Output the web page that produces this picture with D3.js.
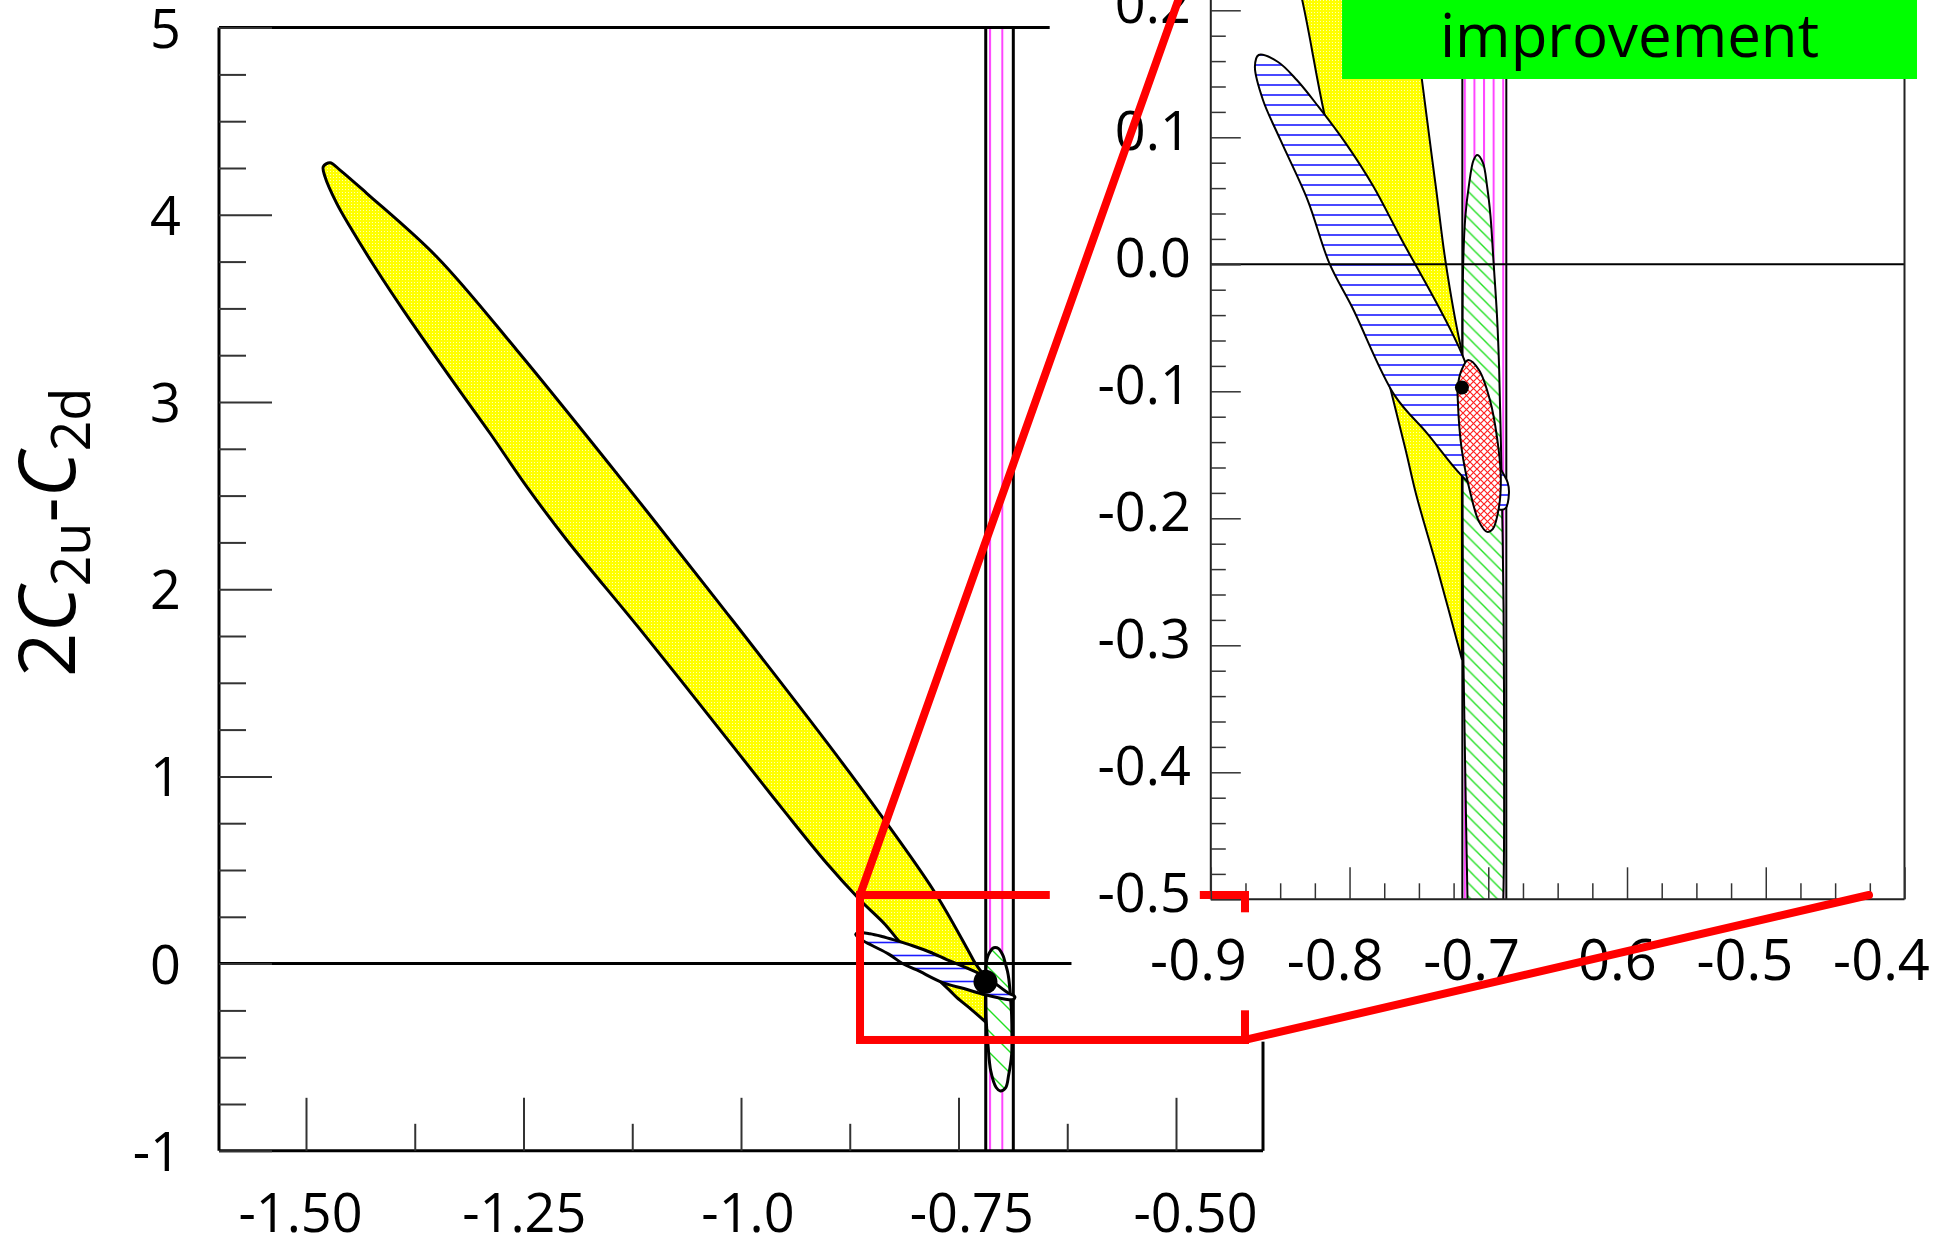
<!DOCTYPE html>
<html>
<head>
<meta charset="utf-8">
<script src="https://cdn.jsdelivr.net/npm/d3@7/dist/d3.min.js"></script>
<style>
  body { margin: 0; background: white; }
  svg text { font-family: "Open Sans", sans-serif; fill: black; }
</style>
</head>
<body>
<div id="chart"></div>
<script>
// ---- data ----
// axes
const mainXTicks = [-1.5, -1.25, -1.0, -0.75, -0.5];
const mainXLabels = ['-1.50', '-1.25', '-1.0', '-0.75', '-0.50'];
const mainXMinor = [-1.375, -1.125, -0.875, -0.625];
const mainYTicks = [-1, 0, 1, 2, 3, 4, 5];
const mainYLabels = ['-1', '0', '1', '2', '3', '4', '5'];
const insetXTicks = [-0.9, -0.8, -0.7, -0.6, -0.5, -0.4];
const insetXLabels = ['-0.9', '-0.8', '-0.7', '-0.6', '-0.5', '-0.4'];
const insetYTicks = [-0.5, -0.4, -0.3, -0.2, -0.1, 0.0, 0.1, 0.2];
const insetYLabels = ['-0.5', '-0.4', '-0.3', '-0.2', '-0.1', '0.0', '0.1', '0.2'];

// yellow band: from the lower clip corner, up the lower edge, round the tip,
// down the upper edge; the right side is cut by the vertical band
const yellowOutline = [
  [-0.7190, -0.311], [-0.7361, -0.242], [-0.7518, -0.182], [-0.7596, -0.146],
  [-0.7753, -0.077], [-0.8177, 0.116], [-0.8341, 0.208], [-0.8632, 0.340],
  [-0.9015, 0.536], [-0.9514, 0.821], [-1.0089, 1.159], [-1.1123, 1.764],
  [-1.2003, 2.263], [-1.2463, 2.548], [-1.2885, 2.833], [-1.3268, 3.082],
  [-1.3882, 3.491], [-1.4187, 3.705], [-1.4494, 3.936], [-1.4647, 4.061],
  [-1.4782, 4.204], [-1.4801, 4.257], [-1.4724, 4.278], [-1.4609, 4.239],
  [-1.4302, 4.115], [-1.3498, 3.776], [-1.2578, 3.278], [-1.1429, 2.619],
  [-1.0279, 1.942], [-0.8747, 1.017], [-0.7790, 0.393], [-0.7384, 0.066],
  [-0.7305, 0.000], [-0.7204, -0.062], [-0.7190, -0.068]
];

// blue horizontally hatched ellipse
const blueOutline = [
  [-0.8655, 0.1648], [-0.8518, 0.1595], [-0.8380, 0.1451], [-0.8224, 0.1241],
  [-0.8027, 0.0952], [-0.7832, 0.0620], [-0.7636, 0.0217], [-0.7192, -0.0701],
  [-0.6929, -0.1570], [-0.6860, -0.1720], [-0.6851, -0.1800], [-0.6875, -0.1920],
  [-0.6920, -0.1930], [-0.7192, -0.1664], [-0.7439, -0.1333], [-0.7675, -0.1032],
  [-0.7980, -0.0340], [-0.8145, 0.0007], [-0.8302, 0.0506], [-0.8498, 0.0979],
  [-0.8624, 0.1294], [-0.8682, 0.1556]
];

// green diagonally hatched ellipse
const greenOutline = [
  [-0.7079, 0.086], [-0.7039, 0.080], [-0.7008, 0.061], [-0.6984, 0.038],
  [-0.6961, 0.000], [-0.6937, -0.041], [-0.6922, -0.081], [-0.6902, -0.180],
  [-0.6890, -0.270], [-0.6886, -0.390], [-0.6890, -0.490], [-0.6924, -0.596],
  [-0.6957, -0.662], [-0.7020, -0.680], [-0.7067, -0.662], [-0.7129, -0.574],
  [-0.7160, -0.440], [-0.7181, -0.300], [-0.7185, -0.150], [-0.7181, 0.000],
  [-0.7165, 0.038], [-0.7141, 0.061], [-0.7106, 0.082]
];

// red cross-hatched ellipse (inset only)
const redOutline = [
  [-0.7145, -0.0754], [-0.7067, -0.0832], [-0.6988, -0.1069], [-0.6937, -0.1363],
  [-0.6910, -0.1664], [-0.6922, -0.1905], [-0.6968, -0.2086], [-0.7008, -0.2107],
  [-0.7067, -0.2026], [-0.7126, -0.1815], [-0.7192, -0.1453], [-0.7220, -0.1062],
  [-0.7220, -0.0964], [-0.7192, -0.0832]
];

const bestFit = [-0.719, -0.097];
const bandEdges = [-0.7187, -0.6870];

// zoom box on the main plot, and the green label box in the inset
const zoomBox = { x0: -0.8632, x1: -0.4207, y0: -0.408, y1: 0.3665 };
const improvementBox = { x0: -0.8054, x1: -0.391, y0: 0.1459 };

// ---- layout ----
const width = 1943, height = 1248;

const svg = d3.select('#chart')
  .append('svg')
  .attr('width', width)
  .attr('height', height)
  .style('background', 'white');

const xMain = d3.scaleLinear().domain([-1.6, -0.4]).range([219, 1263]);
const yMain = d3.scaleLinear().domain([-1, 5]).range([1150.8, 27.6]);
const xIn = d3.scaleLinear().domain([-0.9, -0.4]).range([1210.8, 1904.5]);
const yIn = d3.scaleLinear().domain([-0.5, 0.28]).range([899.3, -91.3]);

// tick labels are spaced a little differently from the ticks themselves
const xMainLabel = d3.scaleLinear().domain([-1.5, -0.5]).range([300, 1195]);
const xInLabel = d3.scaleLinear().domain([-0.9, -0.4]).range([1198, 1881]);

const defs = svg.append('defs');

// yellow dotted fill
const yp = defs.append('pattern').attr('id', 'yellowFill')
  .attr('patternUnits', 'userSpaceOnUse').attr('width', 3).attr('height', 3);
yp.append('rect').attr('width', 3).attr('height', 3).attr('fill', '#ffff00');
yp.append('rect').attr('width', 1).attr('height', 1).attr('fill', '#ffffb0');

// vertical magenta lines for the band
function magentaPattern(id, step, x0) {
  const p = defs.append('pattern').attr('id', id)
    .attr('patternUnits', 'userSpaceOnUse')
    .attr('x', x0 - 1).attr('width', step).attr('height', 10);
  p.append('line').attr('x1', 1).attr('x2', 1).attr('y1', 0).attr('y2', 10)
    .attr('stroke', '#ff44ff').attr('stroke-width', 2);
}
magentaPattern('magMain', 12.3, xMain(bandEdges[0]) + 4.3);
magentaPattern('magIn', 9.6, xIn(bandEdges[0]) + 2.5);

// horizontal blue lines
function bluePattern(id, step) {
  const p = defs.append('pattern').attr('id', id)
    .attr('patternUnits', 'userSpaceOnUse').attr('width', 10).attr('height', step);
  p.append('rect').attr('width', 10).attr('height', step).attr('fill', 'white');
  p.append('line').attr('x1', 0).attr('x2', 10).attr('y1', step / 2).attr('y2', step / 2)
    .attr('stroke', '#1a1aff').attr('stroke-width', 1.6);
}
bluePattern('blueMain', 13);
bluePattern('blueIn', 10);

// diagonal "\" green lines
function greenPattern(id, s) {
  const p = defs.append('pattern').attr('id', id)
    .attr('patternUnits', 'userSpaceOnUse').attr('width', s).attr('height', s);
  p.append('rect').attr('width', s).attr('height', s).attr('fill', 'white');
  p.append('path')
    .attr('d', `M0,0L${s},${s}M${s - 2},-2L${s + 2},2M-2,${s - 2}L2,${s + 2}`)
    .attr('stroke', '#22e022').attr('stroke-width', 1.4);
}
greenPattern('greenMain', 21);
greenPattern('greenIn', 13.3);

// red cross hatch
const s = 7;
const rp = defs.append('pattern').attr('id', 'redCross')
  .attr('patternUnits', 'userSpaceOnUse').attr('width', s).attr('height', s);
rp.append('rect').attr('width', s).attr('height', s).attr('fill', 'white');
rp.append('path').attr('d', `M0,0L${s},${s}M0,${s}L${s},0`)
  .attr('stroke', '#ff2020').attr('stroke-width', 1.2);

// clip paths
defs.append('clipPath').attr('id', 'clipMain').append('rect')
  .attr('x', xMain(-1.6)).attr('y', yMain(5))
  .attr('width', xMain(-0.4) - xMain(-1.6)).attr('height', yMain(-1) - yMain(5));
defs.append('clipPath').attr('id', 'clipIn').append('rect')
  .attr('x', xIn(-0.9)).attr('y', yIn(0.28))
  .attr('width', xIn(-0.4) - xIn(-0.9)).attr('height', yIn(-0.5) - yIn(0.28));

// draw the contours of one panel
function drawContours(g, xs, ys, o) {
  const closed = d3.line().x(d => xs(d[0])).y(d => ys(d[1]))
    .curve(d3.curveCatmullRomClosed.alpha(0.5));
  const open = d3.line().x(d => xs(d[0])).y(d => ys(d[1]))
    .curve(d3.curveCatmullRom.alpha(0.5));
  const [yb, yt] = ys.domain();

  // magenta band
  g.append('rect')
    .attr('x', xs(bandEdges[0])).attr('y', ys(yt))
    .attr('width', xs(bandEdges[1]) - xs(bandEdges[0]))
    .attr('height', ys(yb) - ys(yt))
    .attr('fill', `url(#${o.mag})`);
  bandEdges.forEach(b => {
    g.append('line')
      .attr('x1', xs(b)).attr('x2', xs(b))
      .attr('y1', ys(yb)).attr('y2', ys(yt))
      .attr('stroke', 'black').attr('stroke-width', o.lw);
  });

  // smooth outline, straight cut along the band edge
  g.append('path').attr('d', open(yellowOutline) + 'Z')
    .attr('fill', 'url(#yellowFill)').attr('stroke', 'black')
    .attr('stroke-width', o.lw).attr('stroke-linejoin', 'round');

  g.append('path').attr('d', closed(greenOutline))
    .attr('fill', `url(#${o.green})`).attr('stroke', 'black').attr('stroke-width', o.lw);

  g.append('path').attr('d', closed(blueOutline))
    .attr('fill', `url(#${o.blue})`).attr('stroke', 'black').attr('stroke-width', o.lw);

  if (o.red) {
    g.append('path').attr('d', closed(redOutline))
      .attr('fill', 'url(#redCross)').attr('stroke', 'black').attr('stroke-width', o.lw);
  }

  g.append('circle')
    .attr('cx', xs(bestFit[0])).attr('cy', ys(bestFit[1]))
    .attr('r', o.dot).attr('fill', 'black');
}

function styleAxis(ax, size, tickColor, tickWidth) {
  ax.select('.domain').remove();
  ax.selectAll('.tick line').attr('stroke', tickColor).attr('stroke-width', tickWidth);
  ax.selectAll('.tick text').attr('font-size', size).attr('fill', 'black');
}

// ---- main plot ----
const main = svg.append('g');
const mainContent = main.append('g').attr('clip-path', 'url(#clipMain)');
drawContours(mainContent, xMain, yMain,
  { lw: 3, dot: 12, mag: 'magMain', blue: 'blueMain', green: 'greenMain', red: false });

// zero line, hidden where the inset starts
main.append('line')
  .attr('x1', xMain(-1.6)).attr('x2', xMain(-0.620))
  .attr('y1', yMain(0)).attr('y2', yMain(0))
  .attr('stroke', 'black').attr('stroke-width', 3);

// frame
main.append('line').attr('x1', xMain(-1.6)).attr('x2', xMain(-1.6))
  .attr('y1', yMain(-1)).attr('y2', yMain(5)).attr('stroke', 'black').attr('stroke-width', 3);
main.append('line').attr('x1', xMain(-1.6)).attr('x2', xMain(-0.4))
  .attr('y1', yMain(-1)).attr('y2', yMain(-1)).attr('stroke', 'black').attr('stroke-width', 3);
main.append('line').attr('x1', xMain(-1.6)).attr('x2', xMain(-0.645))
  .attr('y1', yMain(5)).attr('y2', yMain(5)).attr('stroke', 'black').attr('stroke-width', 3);
main.append('line').attr('x1', xMain(-0.4)).attr('x2', xMain(-0.4))
  .attr('y1', yMain(-1)).attr('y2', yMain(-0.417)).attr('stroke', 'black').attr('stroke-width', 3);

// axes
const mainYAxis = main.append('g')
  .attr('transform', `translate(${xMain(-1.6)},0)`)
  .call(d3.axisLeft(yMain).tickValues(mainYTicks).tickFormat((d, i) => mainYLabels[i])
    .tickSizeInner(-53).tickSizeOuter(0).tickPadding(38));
styleAxis(mainYAxis, 54, '#333', 2);
mainYAxis.selectAll('.tick text').attr('dy', '0.36em');

const mainYMinor = main.append('g')
  .attr('transform', `translate(${xMain(-1.6)},0)`)
  .call(d3.axisLeft(yMain)
    .tickValues(d3.range(-1, 5.001, 0.25).filter(v => Math.abs(v - Math.round(v)) > 1e-6))
    .tickFormat('').tickSizeInner(-27).tickSizeOuter(0));
styleAxis(mainYMinor, 54, '#333', 2);

const mainXAxis = main.append('g')
  .attr('transform', `translate(0,${yMain(-1)})`)
  .call(d3.axisBottom(xMain).tickValues(mainXTicks).tickFormat((d, i) => mainXLabels[i])
    .tickSizeInner(-53).tickSizeOuter(0).tickPadding(43));
styleAxis(mainXAxis, 54, '#333', 2);
mainXAxis.selectAll('.tick text').attr('dx', d => xMainLabel(d) - xMain(d));

const mainXMinorAxis = main.append('g')
  .attr('transform', `translate(0,${yMain(-1)})`)
  .call(d3.axisBottom(xMain).tickValues(mainXMinor).tickFormat('')
    .tickSizeInner(-27).tickSizeOuter(0));
styleAxis(mainXMinorAxis, 54, '#333', 2);

// y title 2C_2u - C_2d
const title = main.append('text')
  .attr('transform', `translate(75,677) rotate(-90)`)
  .attr('font-size', 78);
title.append('tspan').text('2');
title.append('tspan').attr('font-style', 'italic').text('C');
title.append('tspan').attr('font-size', 54).attr('dy', 15).text('2u');
title.append('tspan').attr('dy', -15).text('-');
title.append('tspan').attr('font-style', 'italic').text('C');
title.append('tspan').attr('font-size', 54).attr('dy', 15).text('2d');

// ---- inset ----
const inset = svg.append('g');
inset.append('rect')
  .attr('x', xIn(-0.9)).attr('y', yIn(0.28))
  .attr('width', xIn(-0.4) - xIn(-0.9)).attr('height', yIn(-0.5) - yIn(0.28))
  .attr('fill', 'white');

const insetContent = inset.append('g').attr('clip-path', 'url(#clipIn)');
drawContours(insetContent, xIn, yIn,
  { lw: 2, dot: 7, mag: 'magIn', blue: 'blueIn', green: 'greenIn', red: true });
insetContent.append('line')
  .attr('x1', xIn(-0.9)).attr('x2', xIn(-0.4))
  .attr('y1', yIn(0)).attr('y2', yIn(0))
  .attr('stroke', 'black').attr('stroke-width', 2);

// inset frame
[[-0.9, -0.5, -0.9, 0.28], [-0.9, -0.5, -0.4, -0.5], [-0.4, -0.5, -0.4, 0.28]].forEach(l => {
  inset.append('line')
    .attr('x1', xIn(l[0])).attr('y1', yIn(l[1]))
    .attr('x2', xIn(l[2])).attr('y2', yIn(l[3]))
    .attr('stroke', '#222').attr('stroke-width', 2);
});

const inYMinor = inset.append('g')
  .attr('transform', `translate(${xIn(-0.9)},0)`)
  .call(d3.axisLeft(yIn)
    .tickValues(d3.range(-0.5, 0.281, 0.02).filter(v => Math.abs(v * 10 - Math.round(v * 10)) > 1e-6))
    .tickFormat('').tickSizeInner(-15).tickSizeOuter(0));
styleAxis(inYMinor, 54, '#333', 1.5);

const inXMinor = inset.append('g')
  .attr('transform', `translate(0,${yIn(-0.5)})`)
  .call(d3.axisBottom(xIn)
    .tickValues(d3.range(-0.9, -0.399, 0.025).filter(v => Math.abs(v * 10 - Math.round(v * 10)) > 1e-6))
    .tickFormat('').tickSizeInner(-16).tickSizeOuter(0));
styleAxis(inXMinor, 54, '#333', 1.5);

// green "improvement" box
const gx0 = xIn(improvementBox.x0), gx1 = xIn(improvementBox.x1), gy1 = yIn(improvementBox.y0);
inset.append('rect')
  .attr('x', gx0).attr('y', yIn(0.28))
  .attr('width', gx1 - gx0).attr('height', gy1 - yIn(0.28))
  .attr('fill', '#00ff00');
inset.append('text')
  .attr('x', (gx0 + gx1) / 2).attr('y', gy1 - 22)
  .attr('text-anchor', 'middle').attr('font-size', 60)
  .text('improvement');

// ---- red zoom box (under the inset labels) ----
const red = svg.append('g');
red.append('rect')
  .attr('x', xMain(zoomBox.x0)).attr('y', yMain(zoomBox.y1))
  .attr('width', xMain(zoomBox.x1) - xMain(zoomBox.x0))
  .attr('height', yMain(zoomBox.y0) - yMain(zoomBox.y1))
  .attr('fill', 'none').attr('stroke', '#ff0000').attr('stroke-width', 8);

// inset labels sit on white boxes
const labels = svg.append('g');
labels.append('rect')
  .attr('x', xIn(-0.9) - 161).attr('y', 0)
  .attr('width', 150).attr('height', yIn(-0.5) + 13)
  .attr('fill', 'white');
labels.append('rect')
  .attr('x', xIn(-0.9) - 139).attr('y', yIn(-0.5) + 13)
  .attr('width', width - (xIn(-0.9) - 139)).attr('height', 98)
  .attr('fill', 'white');

const inYAxis = labels.append('g')
  .attr('transform', `translate(${xIn(-0.9)},0)`)
  .call(d3.axisLeft(yIn).tickValues(insetYTicks).tickFormat((d, i) => insetYLabels[i])
    .tickSizeInner(-30).tickSizeOuter(0).tickPadding(20));
styleAxis(inYAxis, 54, '#333', 1.5);
inYAxis.selectAll('.tick text').attr('dy', '0.22em');

const inXAxis = labels.append('g')
  .attr('transform', `translate(0,${yIn(-0.5)})`)
  .call(d3.axisBottom(xIn).tickValues(insetXTicks).tickFormat((d, i) => insetXLabels[i])
    .tickSizeInner(-32).tickSizeOuter(0).tickPadding(41));
styleAxis(inXAxis, 56, '#333', 1.5);
inXAxis.selectAll('.tick text').attr('dx', d => xInLabel(d) - xIn(d));

// ---- connecting lines, on top of everything ----
const connectors = [
  [[xMain(zoomBox.x0), yMain(zoomBox.y1)], [xIn(-0.9), yIn(0.28)]],
  [[xMain(zoomBox.x1), yMain(zoomBox.y0)], [xIn(-0.4256), yIn(-0.4966)]]
];
connectors.forEach(c => {
  svg.append('line')
    .attr('x1', c[0][0]).attr('y1', c[0][1])
    .attr('x2', c[1][0]).attr('y2', c[1][1])
    .attr('stroke', '#ff0000').attr('stroke-width', 8).attr('stroke-linecap', 'round');
});
</script>
</body>
</html>
